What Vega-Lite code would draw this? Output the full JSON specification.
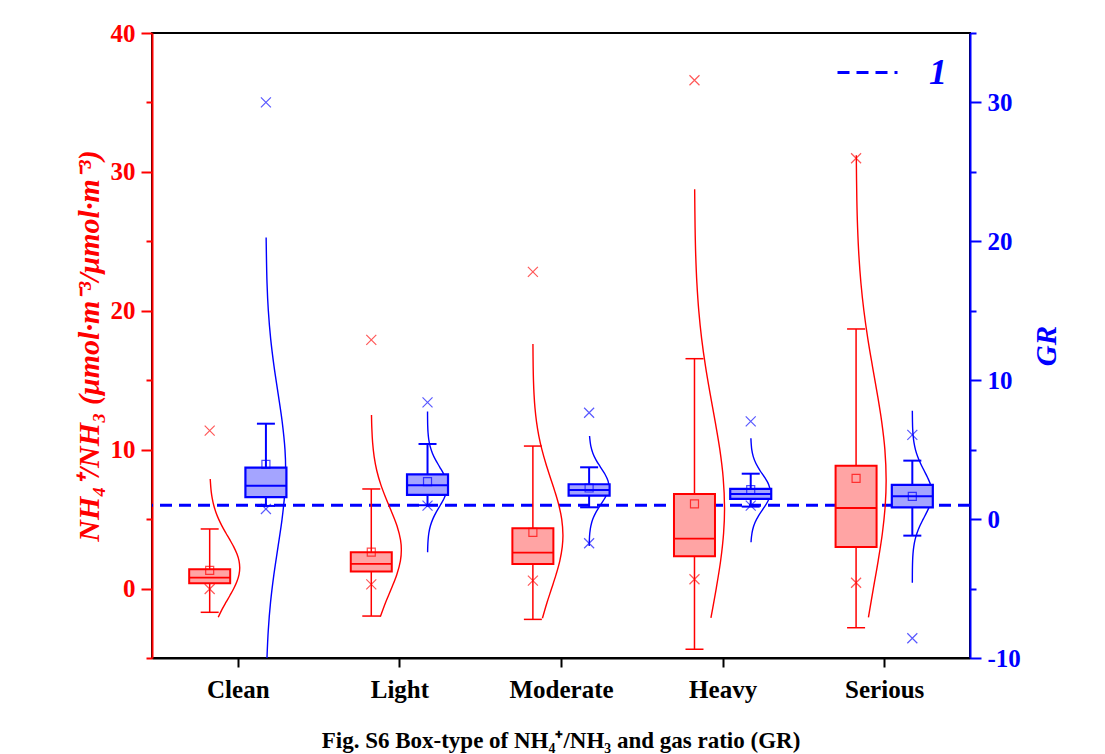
{
"$schema": "https://vega.github.io/schema/vega-lite/v6.json",
"width": 818, "height": 625,
"autosize": {"type": "none"},
"padding": {"left": 152, "top": 33, "right": 135, "bottom": 96},
"background": "white",
"config": {"view": {"stroke": "black", "strokeWidth": 2}, "axis": {"grid": false}},
"title": {"text": "Fig. S6 Box-type of NH₄⁺/NH₃ and gas ratio (GR)", "orient": "bottom", "anchor": "middle", "font": "Liberation Serif", "fontSize": 23, "fontWeight": "bold", "color": "black", "offset": 28},
"datasets": {
"box": [
{"cat":"Clean","s":"NH","lo":-1.71,"q1":0.38,"med":0.79,"q3":1.39,"hi":4.29,"mean":1.31,"xlo":-0.03,"xhi":11.37},
{"cat":"Light","s":"NH","lo":-1.98,"q1":1.22,"med":1.77,"q3":2.61,"hi":7.17,"mean":2.63,"xlo":0.3,"xhi":17.9},
{"cat":"Moderate","s":"NH","lo":-2.22,"q1":1.77,"med":2.58,"q3":4.34,"hi":10.26,"mean":4.05,"xlo":0.57,"xhi":22.8},
{"cat":"Heavy","s":"NH","lo":-4.37,"q1":2.32,"med":3.59,"q3":6.81,"hi":16.55,"mean":6.09,"xlo":0.67,"xhi":36.6},
{"cat":"Serious","s":"NH","lo":-2.82,"q1":2.99,"med":5.8,"q3":8.85,"hi":18.69,"mean":7.94,"xlo":0.42,"xhi":30.98},
{"cat":"Clean","s":"GR","lo":0.95,"q1":1.59,"med":2.41,"q3":3.7,"hi":6.87,"mean":3.94,"xlo":0.73,"xhi":30.0},
{"cat":"Light","s":"GR","lo":1.0,"q1":1.74,"med":2.43,"q3":3.22,"hi":5.41,"mean":2.7,"xlo":0.97,"xhi":8.41},
{"cat":"Moderate","s":"GR","lo":0.85,"q1":1.69,"med":2.1,"q3":2.51,"hi":3.73,"mean":2.24,"xlo":-1.74,"xhi":7.66},
{"cat":"Heavy","s":"GR","lo":0.9,"q1":1.45,"med":1.81,"q3":2.17,"hi":3.27,"mean":2.12,"xlo":0.97,"xhi":7.04},
{"cat":"Serious","s":"GR","lo":-1.19,"q1":0.85,"med":1.64,"q3":2.46,"hi":4.21,"mean":1.63,"xlo":-8.58,"xhi":6.06}
],
"curve": [
{"cat":"Clean","s":"NH","v":-2.07,"d":0.284},{"cat":"Clean","s":"NH","v":-1.5,"d":0.411},{"cat":"Clean","s":"NH","v":-1,"d":0.539},{"cat":"Clean","s":"NH","v":-0.5,"d":0.674},{"cat":"Clean","s":"NH","v":0,"d":0.801},{"cat":"Clean","s":"NH","v":0.5,"d":0.906},{"cat":"Clean","s":"NH","v":1,"d":0.976},{"cat":"Clean","s":"NH","v":1.5,"d":1},{"cat":"Clean","s":"NH","v":2,"d":0.976},{"cat":"Clean","s":"NH","v":2.5,"d":0.906},{"cat":"Clean","s":"NH","v":3,"d":0.801},{"cat":"Clean","s":"NH","v":3.5,"d":0.674},{"cat":"Clean","s":"NH","v":4,"d":0.539},{"cat":"Clean","s":"NH","v":4.5,"d":0.411},{"cat":"Clean","s":"NH","v":5,"d":0.298},{"cat":"Clean","s":"NH","v":5.5,"d":0.206},{"cat":"Clean","s":"NH","v":6,"d":0.135},{"cat":"Clean","s":"NH","v":6.5,"d":0.085},{"cat":"Clean","s":"NH","v":7,"d":0.05},{"cat":"Clean","s":"NH","v":7.89,"d":0.018},
{"cat":"Light","s":"NH","v":-2.03,"d":0.3},{"cat":"Light","s":"NH","v":-1,"d":0.476},{"cat":"Light","s":"NH","v":0,"d":0.669},{"cat":"Light","s":"NH","v":1,"d":0.848},{"cat":"Light","s":"NH","v":2,"d":0.969},{"cat":"Light","s":"NH","v":2.78,"d":1},{"cat":"Light","s":"NH","v":3.5,"d":0.973},{"cat":"Light","s":"NH","v":4.5,"d":0.857},{"cat":"Light","s":"NH","v":5.5,"d":0.68},{"cat":"Light","s":"NH","v":6.5,"d":0.487},{"cat":"Light","s":"NH","v":7.5,"d":0.314},{"cat":"Light","s":"NH","v":8.5,"d":0.182},{"cat":"Light","s":"NH","v":9.5,"d":0.095},{"cat":"Light","s":"NH","v":10.5,"d":0.045},{"cat":"Light","s":"NH","v":11.5,"d":0.019},{"cat":"Light","s":"NH","v":12.5,"d":0.007},
{"cat":"Moderate","s":"NH","v":-2.14,"d":0.317},{"cat":"Moderate","s":"NH","v":-1,"d":0.471},{"cat":"Moderate","s":"NH","v":0,"d":0.622},{"cat":"Moderate","s":"NH","v":1,"d":0.77},{"cat":"Moderate","s":"NH","v":2,"d":0.896},{"cat":"Moderate","s":"NH","v":3,"d":0.977},{"cat":"Moderate","s":"NH","v":3.86,"d":1},{"cat":"Moderate","s":"NH","v":5,"d":0.959},{"cat":"Moderate","s":"NH","v":6,"d":0.864},{"cat":"Moderate","s":"NH","v":7,"d":0.73},{"cat":"Moderate","s":"NH","v":8,"d":0.579},{"cat":"Moderate","s":"NH","v":9,"d":0.431},{"cat":"Moderate","s":"NH","v":10,"d":0.301},{"cat":"Moderate","s":"NH","v":11,"d":0.197},{"cat":"Moderate","s":"NH","v":12,"d":0.121},{"cat":"Moderate","s":"NH","v":13,"d":0.07},{"cat":"Moderate","s":"NH","v":14,"d":0.038},{"cat":"Moderate","s":"NH","v":15,"d":0.019},{"cat":"Moderate","s":"NH","v":16,"d":0.009},{"cat":"Moderate","s":"NH","v":17.6,"d":0.002},
{"cat":"Heavy","s":"NH","v":-2.11,"d":0.547},{"cat":"Heavy","s":"NH","v":0,"d":0.723},{"cat":"Heavy","s":"NH","v":2,"d":0.87},{"cat":"Heavy","s":"NH","v":4,"d":0.969},{"cat":"Heavy","s":"NH","v":5.8,"d":1},{"cat":"Heavy","s":"NH","v":8,"d":0.954},{"cat":"Heavy","s":"NH","v":10,"d":0.844},{"cat":"Heavy","s":"NH","v":12,"d":0.69},{"cat":"Heavy","s":"NH","v":14,"d":0.523},{"cat":"Heavy","s":"NH","v":16,"d":0.367},{"cat":"Heavy","s":"NH","v":18,"d":0.238},{"cat":"Heavy","s":"NH","v":20,"d":0.143},{"cat":"Heavy","s":"NH","v":22,"d":0.08},{"cat":"Heavy","s":"NH","v":24,"d":0.041},{"cat":"Heavy","s":"NH","v":26,"d":0.02},{"cat":"Heavy","s":"NH","v":28.75,"d":0.006},
{"cat":"Serious","s":"NH","v":-2.07,"d":0.411},{"cat":"Serious","s":"NH","v":0,"d":0.574},{"cat":"Serious","s":"NH","v":2,"d":0.735},{"cat":"Serious","s":"NH","v":4,"d":0.876},{"cat":"Serious","s":"NH","v":6,"d":0.97},{"cat":"Serious","s":"NH","v":7.82,"d":1},{"cat":"Serious","s":"NH","v":10,"d":0.958},{"cat":"Serious","s":"NH","v":12,"d":0.853},{"cat":"Serious","s":"NH","v":14,"d":0.707},{"cat":"Serious","s":"NH","v":16,"d":0.545},{"cat":"Serious","s":"NH","v":18,"d":0.39},{"cat":"Serious","s":"NH","v":20,"d":0.26},{"cat":"Serious","s":"NH","v":22,"d":0.161},{"cat":"Serious","s":"NH","v":24,"d":0.093},{"cat":"Serious","s":"NH","v":26,"d":0.05},{"cat":"Serious","s":"NH","v":28,"d":0.025},{"cat":"Serious","s":"NH","v":31.2,"d":0.007},
{"cat":"Clean","s":"GR","v":-10,"d":0.054},{"cat":"Clean","s":"GR","v":-8,"d":0.12},{"cat":"Clean","s":"GR","v":-6,"d":0.234},{"cat":"Clean","s":"GR","v":-4,"d":0.404},{"cat":"Clean","s":"GR","v":-2,"d":0.613},{"cat":"Clean","s":"GR","v":0,"d":0.819},{"cat":"Clean","s":"GR","v":2,"d":0.963},{"cat":"Clean","s":"GR","v":3.54,"d":1},{"cat":"Clean","s":"GR","v":5,"d":0.967},{"cat":"Clean","s":"GR","v":7,"d":0.826},{"cat":"Clean","s":"GR","v":9,"d":0.622},{"cat":"Clean","s":"GR","v":11,"d":0.412},{"cat":"Clean","s":"GR","v":13,"d":0.24},{"cat":"Clean","s":"GR","v":15,"d":0.123},{"cat":"Clean","s":"GR","v":17,"d":0.056},{"cat":"Clean","s":"GR","v":20.28,"d":0.011},
{"cat":"Light","s":"GR","v":-2.39,"d":0.005},{"cat":"Light","s":"GR","v":-2,"d":0.011},{"cat":"Light","s":"GR","v":-1.5,"d":0.029},{"cat":"Light","s":"GR","v":-1,"d":0.068},{"cat":"Light","s":"GR","v":-0.5,"d":0.143},{"cat":"Light","s":"GR","v":0,"d":0.267},{"cat":"Light","s":"GR","v":0.5,"d":0.442},{"cat":"Light","s":"GR","v":1,"d":0.649},{"cat":"Light","s":"GR","v":1.5,"d":0.844},{"cat":"Light","s":"GR","v":2,"d":0.972},{"cat":"Light","s":"GR","v":2.34,"d":1},{"cat":"Light","s":"GR","v":2.75,"d":0.96},{"cat":"Light","s":"GR","v":3.25,"d":0.819},{"cat":"Light","s":"GR","v":3.75,"d":0.619},{"cat":"Light","s":"GR","v":4.25,"d":0.415},{"cat":"Light","s":"GR","v":4.75,"d":0.247},{"cat":"Light","s":"GR","v":5.25,"d":0.13},{"cat":"Light","s":"GR","v":5.75,"d":0.061},{"cat":"Light","s":"GR","v":6.25,"d":0.025},{"cat":"Light","s":"GR","v":6.75,"d":0.009},{"cat":"Light","s":"GR","v":7.25,"d":0.003},{"cat":"Light","s":"GR","v":7.74,"d":0.001},
{"cat":"Moderate","s":"GR","v":-1.94,"d":0.004},{"cat":"Moderate","s":"GR","v":-1.5,"d":0.012},{"cat":"Moderate","s":"GR","v":-1,"d":0.034},{"cat":"Moderate","s":"GR","v":-0.5,"d":0.086},{"cat":"Moderate","s":"GR","v":0,"d":0.187},{"cat":"Moderate","s":"GR","v":0.5,"d":0.351},{"cat":"Moderate","s":"GR","v":1,"d":0.569},{"cat":"Moderate","s":"GR","v":1.5,"d":0.795},{"cat":"Moderate","s":"GR","v":2,"d":0.958},{"cat":"Moderate","s":"GR","v":2.38,"d":1},{"cat":"Moderate","s":"GR","v":2.75,"d":0.96},{"cat":"Moderate","s":"GR","v":3.25,"d":0.799},{"cat":"Moderate","s":"GR","v":3.75,"d":0.574},{"cat":"Moderate","s":"GR","v":4.25,"d":0.355},{"cat":"Moderate","s":"GR","v":4.75,"d":0.19},{"cat":"Moderate","s":"GR","v":5.25,"d":0.087},{"cat":"Moderate","s":"GR","v":5.98,"d":0.022},
{"cat":"Heavy","s":"GR","v":-1.67,"d":0.016},{"cat":"Heavy","s":"GR","v":-1.25,"d":0.04},{"cat":"Heavy","s":"GR","v":-0.75,"d":0.101},{"cat":"Heavy","s":"GR","v":-0.25,"d":0.218},{"cat":"Heavy","s":"GR","v":0.25,"d":0.402},{"cat":"Heavy","s":"GR","v":0.75,"d":0.635},{"cat":"Heavy","s":"GR","v":1.25,"d":0.857},{"cat":"Heavy","s":"GR","v":1.6,"d":0.962},{"cat":"Heavy","s":"GR","v":1.95,"d":1},{"cat":"Heavy","s":"GR","v":2.5,"d":0.909},{"cat":"Heavy","s":"GR","v":3,"d":0.707},{"cat":"Heavy","s":"GR","v":3.5,"d":0.469},{"cat":"Heavy","s":"GR","v":4,"d":0.266},{"cat":"Heavy","s":"GR","v":4.5,"d":0.129},{"cat":"Heavy","s":"GR","v":5,"d":0.053},{"cat":"Heavy","s":"GR","v":5.82,"d":0.009},
{"cat":"Serious","s":"GR","v":-4.58,"d":0.001},{"cat":"Serious","s":"GR","v":-4,"d":0.002},{"cat":"Serious","s":"GR","v":-3.5,"d":0.006},{"cat":"Serious","s":"GR","v":-3,"d":0.015},{"cat":"Serious","s":"GR","v":-2.5,"d":0.034},{"cat":"Serious","s":"GR","v":-2,"d":0.072},{"cat":"Serious","s":"GR","v":-1.5,"d":0.137},{"cat":"Serious","s":"GR","v":-1,"d":0.239},{"cat":"Serious","s":"GR","v":-0.5,"d":0.38},{"cat":"Serious","s":"GR","v":0,"d":0.552},{"cat":"Serious","s":"GR","v":0.5,"d":0.733},{"cat":"Serious","s":"GR","v":1,"d":0.888},{"cat":"Serious","s":"GR","v":1.81,"d":1},{"cat":"Serious","s":"GR","v":2.5,"d":0.917},{"cat":"Serious","s":"GR","v":3,"d":0.773},{"cat":"Serious","s":"GR","v":3.5,"d":0.596},{"cat":"Serious","s":"GR","v":4,"d":0.419},{"cat":"Serious","s":"GR","v":4.5,"d":0.269},{"cat":"Serious","s":"GR","v":5,"d":0.158},{"cat":"Serious","s":"GR","v":5.5,"d":0.085},{"cat":"Serious","s":"GR","v":6,"d":0.041},{"cat":"Serious","s":"GR","v":6.5,"d":0.018},{"cat":"Serious","s":"GR","v":7,"d":0.008},{"cat":"Serious","s":"GR","v":7.81,"d":0.001}
]
},
"resolve": {"scale": {"y": "independent"}},
"layer": [
{
 "data": {"values": [{"gr": 1, "lab": "1"}]},
 "mark": {"type": "rule", "color": "#0000FF", "strokeWidth": 3},
 "encoding": {
  "y": {"field": "gr", "type": "quantitative", "scale": {"domain": [-10, 35]}, "axis": null},
  "strokeDash": {"field": "lab", "type": "nominal", "scale": {"range": [[12, 7]]},
   "legend": {"orient": "none", "legendX": 684, "legendY": 8, "title": null, "padding": 0, "symbolType": "stroke", "symbolSize": 3600, "symbolStrokeWidth": 3, "symbolStrokeColor": "#0000FF", "symbolDash": [13, 9], "labelFont": "Liberation Serif", "labelFontSize": 36, "labelFontStyle": "italic", "labelFontWeight": "bold", "labelColor": "#0000FF", "labelOffset": 30}}
 }
},
{
 "layer": [
 {
  "data": {"name": "curve"},
  "transform": [{"filter": "datum.s === 'NH'"}, {"calculate": "indexof(['Clean','Light','Moderate','Heavy','Serious'], datum.cat) + 0.5 - 0.174 + datum.d * 0.186", "as": "xc"}],
  "mark": {"type": "line", "color": "#FF0000", "strokeWidth": 1.4, "interpolate": "catmull-rom", "clip": true},
  "encoding": {
   "x": {"field": "xc", "type": "quantitative", "scale": {"domain": [0, 5]},
    "axis": {"values": [0.5, 1.5, 2.5, 3.5, 4.5], "labelExpr": "['Clean','Light','Moderate','Heavy','Serious'][floor(datum.value)]", "title": null, "labelColor": "black", "labelFont": "Liberation Serif", "labelFontSize": 25, "labelFontWeight": "bold", "labelPadding": 10, "domainColor": "black", "domainWidth": 2, "tickColor": "black", "tickWidth": 2, "tickSize": 9, "labelFlush": false, "labelOverlap": false}},
   "y": {"field": "v", "type": "quantitative", "scale": {"domain": [-5, 40]},
    "axis": {"orient": "left", "values": [-5, 0, 5, 10, 15, 20, 25, 30, 35, 40], "labelExpr": "datum.value % 10 === 0 ? '' + datum.value : ''", "title": "NH₄⁺/NH₃ (μmol·m⁻³/μmol·m⁻³)", "titleColor": "#FF0000", "titleFont": "Liberation Serif", "titleFontSize": 30, "titleFontWeight": "bold", "titleFontStyle": "italic", "titlePadding": 6, "labelColor": "#FF0000", "labelFont": "Liberation Serif", "labelFontSize": 25, "labelFontWeight": "bold", "labelPadding": 6, "domainColor": "#FF0000", "domainWidth": 2, "tickColor": "#FF0000", "tickWidth": 2, "tickSize": {"condition": {"test": "datum.value % 10 === 0", "value": 11}, "value": 6}, "labelOverlap": false, "labelFlush": false}},
   "detail": {"field": "cat"},
   "order": {"field": "v", "type": "quantitative"}
  }
 },
 {
  "data": {"name": "box"},
  "transform": [{"filter": "datum.s === 'NH'"}, {"calculate": "indexof(['Clean','Light','Moderate','Heavy','Serious'], datum.cat) + 0.5 - 0.174", "as": "xc"}],
  "encoding": {"x": {"field": "xc", "type": "quantitative", "scale": {"domain": [0, 5]}}},
  "layer": [
   {"mark": {"type": "rule", "color": "#FF0000", "strokeWidth": 1.5}, "encoding": {"y": {"field": "lo", "type": "quantitative", "scale": {"domain": [-5, 40]}}, "y2": {"field": "hi"}}},
   {"mark": {"type": "point", "shape": "M-1,0L1,0", "size": 324, "color": "#FF0000", "strokeWidth": 1.5, "opacity": 1}, "encoding": {"y": {"field": "lo", "type": "quantitative"}}},
   {"mark": {"type": "point", "shape": "M-1,0L1,0", "size": 324, "color": "#FF0000", "strokeWidth": 1.5, "opacity": 1}, "encoding": {"y": {"field": "hi", "type": "quantitative"}}},
   {"mark": {"type": "bar", "width": 41, "fill": "#FFA4A4", "stroke": "#FF0000", "strokeWidth": 2}, "encoding": {"y": {"field": "q1", "type": "quantitative"}, "y2": {"field": "q3"}}},
   {"mark": {"type": "point", "shape": "M-1,0L1,0", "size": 1681, "color": "#FF0000", "strokeWidth": 1.8, "opacity": 1}, "encoding": {"y": {"field": "med", "type": "quantitative"}}},
   {"mark": {"type": "point", "shape": "square", "size": 64, "filled": false, "color": "#FF0000", "strokeWidth": 1.2, "opacity": 0.7}, "encoding": {"y": {"field": "mean", "type": "quantitative"}}},
   {"mark": {"type": "point", "shape": "M-1,-1L1,1M-1,1L1,-1", "size": 100, "filled": false, "color": "#FF0000", "strokeWidth": 1.2, "opacity": 0.65}, "encoding": {"y": {"field": "xlo", "type": "quantitative"}}},
   {"mark": {"type": "point", "shape": "M-1,-1L1,1M-1,1L1,-1", "size": 100, "filled": false, "color": "#FF0000", "strokeWidth": 1.2, "opacity": 0.65}, "encoding": {"y": {"field": "xhi", "type": "quantitative"}}}
  ]
 }
 ]
},
{
 "layer": [
 {
  "data": {"name": "curve"},
  "transform": [{"filter": "datum.s === 'GR'"}, {"calculate": "indexof(['Clean','Light','Moderate','Heavy','Serious'], datum.cat) + 0.5 + 0.174 + datum.d * 0.122", "as": "xc"}],
  "mark": {"type": "line", "color": "#0000FF", "strokeWidth": 1.4, "interpolate": "catmull-rom", "clip": true},
  "encoding": {
   "x": {"field": "xc", "type": "quantitative", "scale": {"domain": [0, 5]}},
   "y": {"field": "v", "type": "quantitative", "scale": {"domain": [-10, 35]},
    "axis": {"orient": "right", "values": [-10, -5, 0, 5, 10, 15, 20, 25, 30, 35], "labelExpr": "datum.value % 10 === 0 ? '' + datum.value : ''", "title": "GR", "titleAngle": -90, "titleBaseline": "top", "titleColor": "#0000FF", "titleFont": "Liberation Serif", "titleFontSize": 29, "titleFontWeight": "bold", "titleFontStyle": "italic", "titlePadding": 12, "labelColor": "#0000FF", "labelFont": "Liberation Serif", "labelFontSize": 25, "labelFontWeight": "bold", "labelPadding": 6, "domainColor": "#0000FF", "domainWidth": 2, "tickColor": "#0000FF", "tickWidth": 2, "tickSize": {"condition": {"test": "datum.value % 10 === 0", "value": 11}, "value": 6}, "labelOverlap": false, "labelFlush": false}},
   "detail": {"field": "cat"},
   "order": {"field": "v", "type": "quantitative"}
  }
 },
 {
  "data": {"name": "box"},
  "transform": [{"filter": "datum.s === 'GR'"}, {"calculate": "indexof(['Clean','Light','Moderate','Heavy','Serious'], datum.cat) + 0.5 + 0.174", "as": "xc"}],
  "encoding": {"x": {"field": "xc", "type": "quantitative", "scale": {"domain": [0, 5]}}},
  "layer": [
   {"mark": {"type": "rule", "color": "#0000FF", "strokeWidth": 2}, "encoding": {"y": {"field": "lo", "type": "quantitative", "scale": {"domain": [-10, 35]}}, "y2": {"field": "hi"}}},
   {"mark": {"type": "point", "shape": "M-1,0L1,0", "size": 324, "color": "#0000FF", "strokeWidth": 2, "opacity": 1}, "encoding": {"y": {"field": "lo", "type": "quantitative"}}},
   {"mark": {"type": "point", "shape": "M-1,0L1,0", "size": 324, "color": "#0000FF", "strokeWidth": 2, "opacity": 1}, "encoding": {"y": {"field": "hi", "type": "quantitative"}}},
   {"mark": {"type": "bar", "width": 41, "fill": "#A4A4FF", "stroke": "#0000FF", "strokeWidth": 2.2}, "encoding": {"y": {"field": "q1", "type": "quantitative"}, "y2": {"field": "q3"}}},
   {"mark": {"type": "point", "shape": "M-1,0L1,0", "size": 1681, "color": "#0000FF", "strokeWidth": 2, "opacity": 1}, "encoding": {"y": {"field": "med", "type": "quantitative"}}},
   {"mark": {"type": "point", "shape": "square", "size": 64, "filled": false, "color": "#0000FF", "strokeWidth": 1.2, "opacity": 0.7}, "encoding": {"y": {"field": "mean", "type": "quantitative"}}},
   {"mark": {"type": "point", "shape": "M-1,-1L1,1M-1,1L1,-1", "size": 100, "filled": false, "color": "#0000FF", "strokeWidth": 1.2, "opacity": 0.65}, "encoding": {"y": {"field": "xlo", "type": "quantitative"}}},
   {"mark": {"type": "point", "shape": "M-1,-1L1,1M-1,1L1,-1", "size": 100, "filled": false, "color": "#0000FF", "strokeWidth": 1.2, "opacity": 0.65}, "encoding": {"y": {"field": "xhi", "type": "quantitative"}}}
  ]
 }
 ]
}
]
}
